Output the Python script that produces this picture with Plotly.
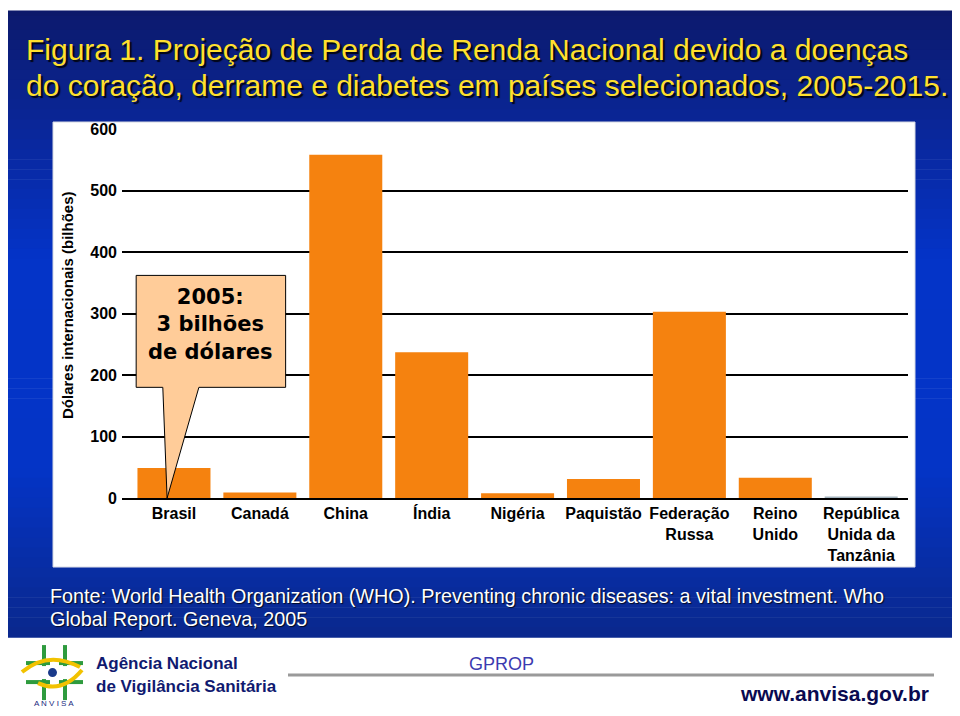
import plotly.graph_objects as go

# ---------------- data ----------------
categories = ["Brasil", "Canadá", "China", "Índia", "Nigéria", "Paquistão",
              "Federação<br>Russa", "Reino<br>Unido", "República<br>Unida da<br>Tanzânia"]
perda_renda = [49, 9, 558, 237, 8, 31, 303, 33, 2.5]
y_ticks = [0, 100, 200, 300, 400, 500, 600]

# page body margin and observed vertical scaling of the captured page
OFF = 8
SY, EY = 0.976, 8.2
W, H = 960 - 2 * OFF, 712


def px(x):
    return (x - OFF) / W


def fy(y):
    # target screen y -> figure pixel y
    return (y - EY) / SY - OFF


def py(y):
    return 1 - fy(y) / H


bar_colors = ["#F5820F"] * 8 + ["#A3B3BD"]

fig = go.Figure()
fig.add_trace(go.Bar(
    x=categories, y=perda_renda,
    marker=dict(color=bar_colors, line=dict(width=0)),
    hoverinfo="x+y",
))

shapes = []
# slide background gradient (vertical bands)
stops = [(0, (12, 24, 104)), (120, (10, 38, 150)), (260, (4, 52, 200)),
         (470, (4, 52, 198)), (637, (10, 40, 140))]


def col_at(y):
    for (y0, c0), (y1, c1) in zip(stops[:-1], stops[1:]):
        if y0 <= y <= y1:
            t = (y - y0) / (y1 - y0)
            return "rgb(%d,%d,%d)" % tuple(round(a + (b - a) * t) for a, b in zip(c0, c1))
    return "rgb(%d,%d,%d)" % stops[-1][1]


n = 64
for i in range(n):
    y0 = 637 * i / n
    y1 = 637 * (i + 1) / n + 0.6
    top = min(py(y0), 1.0)
    shapes.append(dict(type="rect", xref="paper", yref="paper", layer="below",
                       x0=px(max(4, OFF)), x1=px(min(955, 960 - OFF)), y0=py(y1), y1=top,
                       fillcolor=col_at((y0 + y1) / 2), line=dict(width=0)))
# white chart panel
shapes.append(dict(type="rect", xref="paper", yref="paper", layer="below",
                   x0=px(53), x1=px(915), y0=py(567), y1=py(122),
                   fillcolor="white", line=dict(color="#D4D8E2", width=1)))
# callout box with pointer (data coordinates)
shapes.append(dict(type="path", xref="x", yref="y", layer="above",
                   path="M -0.44,362 L 1.30,362 L 1.30,180 L 0.29,180 L -0.08,0 L -0.13,180 L -0.44,180 Z",
                   fillcolor="#FFCC99", line=dict(color="black", width=1)))
# footer separator line
shapes.append(dict(type="line", xref="paper", yref="paper",
                   x0=px(288), x1=px(934), y0=py(675), y1=py(675),
                   line=dict(color="#9A9A9A", width=3)))
# ANVISA logo (simplified)
green = "#2E9B3E"
for seg in [((44, 645), (44, 666)), ((26, 663), (50, 663)),
            ((65, 645), (65, 666)), ((59, 663), (83, 663)),
            ((44, 679), (44, 700)), ((26, 682), (50, 682)),
            ((65, 679), (65, 700)), ((59, 682), (83, 682))]:
    (xa, ya), (xb, yb) = seg
    shapes.append(dict(type="line", xref="paper", yref="paper",
                       x0=px(xa), y0=py(ya), x1=px(xb), y1=py(yb),
                       line=dict(color=green, width=4)))
shapes.append(dict(type="path", xref="paper", yref="paper",
                   path="M %f,%f Q %f,%f %f,%f" % (px(22), py(672), px(48), py(650), px(80), py(667)),
                   line=dict(color="#F2C200", width=4)))
shapes.append(dict(type="path", xref="paper", yref="paper",
                   path="M %f,%f Q %f,%f %f,%f" % (px(38), py(683), px(62), py(694), px(82), py(670)),
                   line=dict(color="#F2C200", width=4)))
shapes.append(dict(type="circle", xref="paper", yref="paper",
                   x0=px(48), x1=px(57), y0=py(677), y1=py(668),
                   fillcolor="#1A3A8A", line=dict(width=0)))

annotations = []
title_font = dict(family="Liberation Sans, Arial, sans-serif", size=30, color="#FFE02E",
                  shadow="2px 2px 1px rgba(0,0,0,0.85)")
annotations.append(dict(xref="paper", yref="paper", x=px(24), y=py(50), xanchor="left", yanchor="middle",
                        text="Figura 1. Projeção de Perda de Renda Nacional devido a doenças",
                        showarrow=False, font=title_font))
annotations.append(dict(xref="paper", yref="paper", x=px(24), y=py(85), xanchor="left", yanchor="middle",
                        text="do coração, derrame e diabetes em países selecionados, 2005-2015.",
                        showarrow=False, font=title_font))
src_font = dict(family="Liberation Sans, Arial, sans-serif", size=19.8, color="white",
                shadow="1px 1px 1px rgba(0,0,0,0.8)")
annotations.append(dict(xref="paper", yref="paper", x=px(48), y=py(596), xanchor="left", yanchor="middle",
                        text="Fonte: World Health Organization (WHO). Preventing chronic diseases: a vital investment. Who",
                        showarrow=False, font=src_font))
annotations.append(dict(xref="paper", yref="paper", x=px(48), y=py(619), xanchor="left", yanchor="middle",
                        text="Global Report. Geneva, 2005",
                        showarrow=False, font=src_font))
# y-axis title
annotations.append(dict(xref="paper", yref="paper", x=px(67), y=py(305), xanchor="center", yanchor="middle",
                        text="Dólares internacionais (bilhões)", textangle=-90, showarrow=False,
                        font=dict(family="Liberation Sans, Arial, sans-serif", size=15, color="black",
                                  weight="bold")))
# callout text
annotations.append(dict(xref="x", yref="y", x=0.43, y=282, xanchor="center", yanchor="middle",
                        text="2005:<br>3 bilhões<br>de dólares", showarrow=False, align="center",
                        font=dict(family="DejaVu Sans, sans-serif", size=21, color="black", weight="bold")))
# footer texts
foot_font = dict(family="Liberation Sans, Arial, sans-serif", size=17, color="#101A70", weight="bold")
annotations.append(dict(xref="paper", yref="paper", x=px(94), y=py(663), xanchor="left", yanchor="middle",
                        text="Agência Nacional", showarrow=False, font=foot_font))
annotations.append(dict(xref="paper", yref="paper", x=px(94), y=py(686), xanchor="left", yanchor="middle",
                        text="de Vigilância Sanitária", showarrow=False, font=foot_font))
annotations.append(dict(xref="paper", yref="paper", x=px(501), y=py(664), xanchor="center", yanchor="middle",
                        text="GPROP", showarrow=False,
                        font=dict(family="Liberation Sans, Arial, sans-serif", size=18, color="#3B3BB0")))
annotations.append(dict(xref="paper", yref="paper", x=px(931), y=py(693), xanchor="right", yanchor="middle",
                        text="www.anvisa.gov.br", showarrow=False,
                        font=dict(family="Liberation Sans, Arial, sans-serif", size=21, color="#0A0A50",
                                  weight="bold")))
annotations.append(dict(xref="paper", yref="paper", x=px(54), y=py(703), xanchor="center", yanchor="middle",
                        text="A N V I S A", showarrow=False,
                        font=dict(family="Liberation Sans, Arial, sans-serif", size=8, color="#1A2A80")))

fig.update_layout(
    width=W, height=H,
    margin=dict(l=0, r=0, t=0, b=0),
    paper_bgcolor="white",
    plot_bgcolor="rgba(0,0,0,0)",
    showlegend=False,
    bargap=0.15,
    shapes=shapes,
    annotations=annotations,
    xaxis=dict(
        domain=[px(122), px(908)],
        type="category",
        range=[-0.605, 8.545],
        showgrid=False,
        showline=True, linecolor="black", linewidth=1.5,
        ticks="",
        tickfont=dict(family="Liberation Sans, Arial, sans-serif", size=16, color="black", weight="bold"),
        fixedrange=True,
    ),
    yaxis=dict(
        domain=[py(498), py(129)],
        range=[0, 600],
        tickvals=y_ticks,
        ticktext=[str(v) for v in y_ticks],
        showgrid=True, gridcolor="black", gridwidth=1.5,
        zeroline=False,
        showline=False,
        ticks="",
        ticklabelstandoff=4,
        tickfont=dict(family="Liberation Sans, Arial, sans-serif", size=16, color="black", weight="bold"),
        fixedrange=True,
    ),
)

fig.write_html("out.html")
